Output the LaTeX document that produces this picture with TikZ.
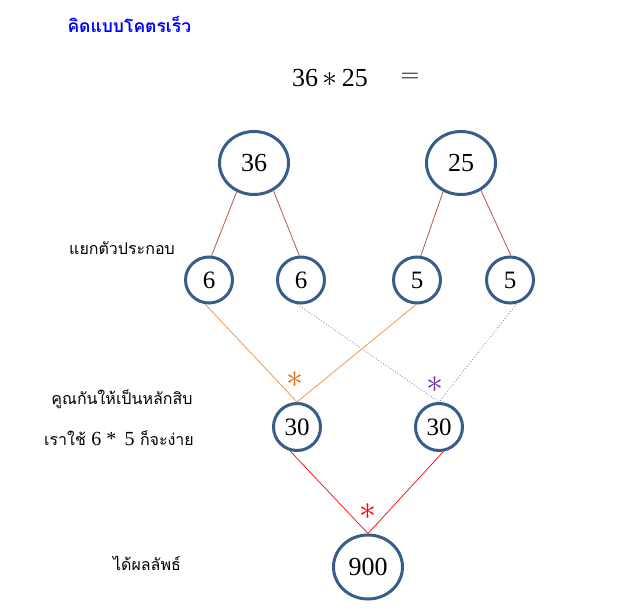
\RequirePackage{fix-cm}
\documentclass[tikz,border=0pt]{standalone}
\usepackage{fontspec}
\usepackage{tikz}
\usetikzlibrary{positioning,shapes.geometric}
\setmainfont{Liberation Serif}
\newfontfamily\thaifont[Script=Thai]{Loma}
\definecolor{ringblue}{HTML}{385D8A}
\definecolor{splitred}{HTML}{C0504D}
\definecolor{crossorange}{HTML}{F79646}
\definecolor{starorange}{HTML}{E46C0A}
\definecolor{crosspurple}{HTML}{8064A2}
\definecolor{starpurple}{HTML}{7030A0}

\begin{document}
\begin{tikzpicture}[
  x=1pt, y=-1pt,
  num/.style={ellipse, draw=ringblue, line width=3pt, inner sep=0pt,
              font=\fontsize{26}{28}\selectfont},
  bignum/.style={num, minimum width=69pt, minimum height=63pt},
  smallnum/.style={num, minimum width=47pt, minimum height=46pt,
                   font=\fontsize{25}{27}\selectfont},
  thlabel/.style={font=\thaifont\fontsize{16}{18}\selectfont},
  split/.style={draw=splitred, line width=0.8pt},
  crossa/.style={draw=crossorange, line width=0.8pt},
  crossb/.style={draw=crosspurple!80, line width=0.9pt, dotted},
  joinline/.style={draw=red, line width=0.7pt},
  star/.style={font=\fontsize{34}{34}\selectfont},
]
\useasboundingbox (0,0) rectangle (641,612);

% heading
\node[anchor=west, text=blue, font=\thaifont\bfseries\fontsize{17.5}{19}\selectfont] (title) at (64,24) {คิดแบบโคตรเร็ว};
\node[font=\fontsize{26}{28}\selectfont] (task) at (330,78) {36\,{\fontsize{30}{30}\selectfont$\ast$}\,25};
\node[font=\fontsize{26}{28}\selectfont] (eq) at (410,78) {$=$};

% numbers
\node[bignum] (n36) at (254,163) {36};
\node[bignum] (n25) at (461,163) {25};
\node[smallnum] (a6) at (209,280) {6};
\node[smallnum] (b6) at (301,280) {6};
\node[smallnum] (a5) at (417,280) {5};
\node[smallnum] (b5) at (510,280) {5};
\node[smallnum, minimum height=47pt] (l30) at (297,427) {30};
\node[smallnum, minimum height=47pt] (r30) at (439,427) {30};
\node[bignum, minimum height=64pt] (n900) at (368,567) {900};

% labels on the left
\node[thlabel] (lbsplit) at (122,248) {แยกตัวประกอบ};
\node[thlabel] (lbmul) at (122,399) {คูณกันให้เป็นหลักสิบ};
\node[thlabel] (lbhint) at (119,438) {เราใช้ {\rmfamily\fontsize{20}{22}\selectfont 6 * \,5} ก็จะง่าย};
\node[thlabel] (lbres) at (147,563) {ได้ผลลัพธ์};

% factor lines
\draw[split] (n36.239) -- (a6.84);
\draw[split] (n36.305) -- (b6.94);
\draw[split] (n25.238) -- (a5.81);
\draw[split] (n25.306) -- (b5.88);

% crossing products
\draw[crossa] (a6.261) -- (l30.north) -- (a5.268);
\draw[crossb] (b6.261) -- (r30.north) -- (b5.286);
\node[star, text=starorange] (stara) at (295,380) {$\ast$};
\node[star, text=starpurple] (starb) at (435,385) {$\ast$};

% final product
\draw[joinline] (l30.254) -- (n900.north) -- (r30.280);
\node[star, text=red] (starc) at (368,512) {$\ast$};
\end{tikzpicture}
\end{document}
